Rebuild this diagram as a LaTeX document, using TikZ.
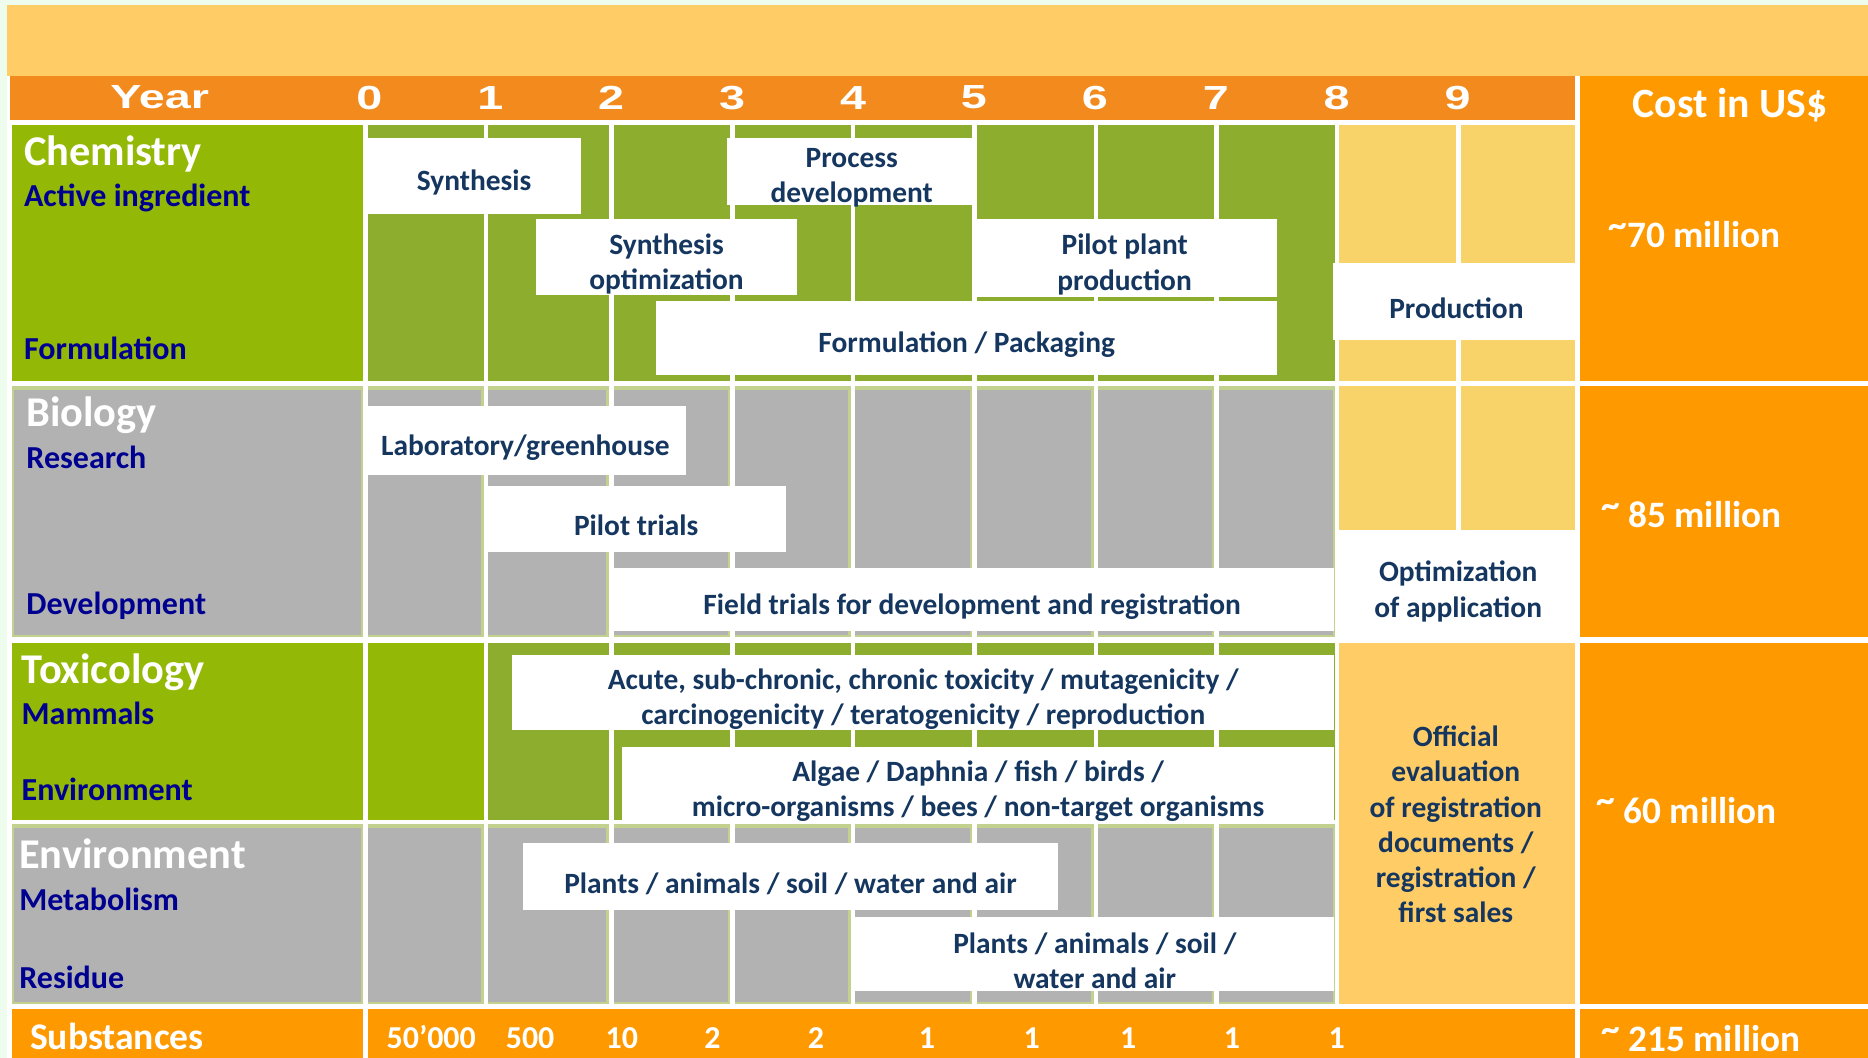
\documentclass[tikz,border=0pt]{standalone}
\usepackage{fontspec}
\setmainfont{Carlito}
\newfontfamily\yearfont{Liberation Sans}
\definecolor{bgc}{HTML}{EEFCEE}
\definecolor{band}{HTML}{FFCC66}
\definecolor{yearbar}{HTML}{F28A1E}
\definecolor{costc}{HTML}{FF9900}
\definecolor{lgreen}{HTML}{93B806}
\definecolor{cgreen}{HTML}{8DAD2F}
\definecolor{cgray}{HTML}{B2B2B2}
\definecolor{gframe}{HTML}{C3D18E}
\definecolor{ycell}{HTML}{F7D36A}
\definecolor{offc}{HTML}{FFCC66}
\definecolor{txtb}{HTML}{14365F}
\definecolor{subb}{HTML}{000090}
\newcommand\boxfont{\fontsize{24.7}{29.6}\selectfont\bfseries}
\newcommand\tld{\raisebox{.28em}{\char"007E}}
\newcommand\wbx[6]{\node[wbox, minimum width={(#4-#2)*1pt}, minimum height={(#5-#3)*1pt}] (#1) at ({(#2+#4)/2},{(#3+#5)/2}) {};
  \node[boxtext] (#1t) at (#1.center) {#6};}
\tikzset{
  wbox/.style={fill=white, inner sep=0pt},
  boxtext/.style={text=txtb, font=\boxfont, align=center, inner sep=0pt, yshift=-5.5pt},
  bigwhite/.style={text=white, font=\fontsize{35.6}{40}\selectfont\bfseries, inner sep=0pt, anchor=base west},
  sublab/.style={text=subb, font=\fontsize{26.9}{30}\selectfont\bfseries, inner sep=0pt, anchor=base west},
  yearlab/.style={text=white, font=\yearfont\fontsize{28}{30}\selectfont\bfseries, inner sep=0pt, xscale=1.4},
  costlab/.style={text=white, font=\fontsize{31.3}{34}\selectfont\bfseries, inner sep=0pt, anchor=west},
  sublabw/.style={text=white, font=\fontsize{26.8}{30}\selectfont\bfseries, inner sep=0pt},
}
\begin{document}
\begin{tikzpicture}[x=1pt,y=-1pt]
\useasboundingbox (0,0) rectangle (1568,888);
\fill[bgc] (0,0) rectangle (1568,888);
\fill[band] (6,4) rectangle (1568,64);
\fill[white] (6,64) rectangle (1568,888);
\fill[yearbar] (8,64) rectangle (1322,101);
% cost column
\fill[costc] (1326,64) rectangle (1568,320);
\fill[costc] (1326,324) rectangle (1568,535);
\fill[costc] (1326,540) rectangle (1568,843);
\fill[costc] (1326,847) rectangle (1568,888);
% substances row
\fill[costc] (10,847) rectangle (305,888);
\fill[costc] (309,847) rectangle (1322,888);
% label cells
\fill[lgreen] (10,105) rectangle (305,320);
\fill[gframe] (10,324) rectangle (305,535);
\fill[cgray] (12,327) rectangle (303,533);
\fill[lgreen] (10,540) rectangle (305,688);
\fill[gframe] (10,692) rectangle (305,843);
\fill[cgray] (12,695) rectangle (303,841);
% year cells
\foreach \a/\b [count=\i from 0] in {309/406,410/511,515/613,617/714,718/816,820/918,922/1019,1023/1121,1124/1222,1226/1322}{
  \ifnum\i<8
    \fill[cgreen] (\a,105) rectangle (\b,320);
    \fill[gframe] (\a,324) rectangle (\b,535);
    \fill[cgray] (\a,327) rectangle (\b-2,533);
    \ifnum\i=0
      \fill[lgreen] (\a,540) rectangle (\b,688);
    \else
      \fill[cgreen] (\a,540) rectangle (\b,688);
    \fi
    \fill[gframe] (\a,692) rectangle (\b,843);
    \fill[cgray] (\a,695) rectangle (\b-2,841);
  \else
    \fill[ycell] (\a,105) rectangle (\b,320);
    \fill[ycell] (\a,324) rectangle (\b,445);
  \fi
}
\fill[offc] (1124,540) rectangle (1322,843);
% white boxes
\wbx{syn}{308}{116}{488}{180}{Synthesis}
\wbx{proc}{610}{116}{820}{172}{Process\\development}
\wbx{synopt}{450}{184}{669}{248}{Synthesis\\optimization}
\wbx{pilot}{816}{184}{1072}{249}{Pilot plant\\production}
\wbx{form}{551}{253}{1072}{315}{Formulation / Packaging}
\wbx{prod}{1119}{221}{1326}{285}{Production}
\wbx{lab}{306}{341}{576}{399}{Laboratory/greenhouse}
\wbx{ptr}{408}{408}{660}{463}{Pilot trials}
\wbx{field}{512}{477}{1120}{530}{Field trials for development and registration}
\wbx{optapp}{1122}{447}{1326}{535}{Optimization\\of application}
\wbx{acute}{430}{550}{1120}{613}{Acute, sub-chronic, chronic toxicity / mutagenicity /\\carcinogenicity / teratogenicity / reproduction}
\wbx{algae}{522}{627}{1120}{690}{Algae / Daphnia / fish / birds /\\micro-organisms / bees / non-target organisms}
\wbx{pla}{439}{708}{888}{764}{Plants / animals / soil / water and air}
\wbx{plb}{718}{770}{1120}{832}{Plants / animals / soil /\\water and air}
\node[font=\boxfont, text=txtb, align=center, inner sep=0pt] (offi) at (1222,692) {Official\\evaluation\\of registration\\documents /\\registration /\\first sales};
% header
\node[yearlab] (year) at (134,82) {Year};
\foreach \i in {0,...,9}{\node[yearlab] (y\i) at ({310+101.5*\i},82) {\i};}
\node[costlab, anchor=center, font=\fontsize{35}{38}\selectfont\bfseries] (cost) at (1452,88) {Cost in US\$};
\node[costlab] (c70) at (1350,197) {\tld70 million};
\node[costlab] (c85) at (1344,432) {\tld{} 85 million};
\node[costlab] (c60) at (1340,680) {\tld{} 60 million};
\node[costlab] (c215) at (1344,872) {\tld{} 215 million};
% row labels
\node[bigwhite] (chem) at (20,139) {Chemistry};
\node[sublab] (act) at (20,173) {Active ingredient};
\node[sublab] (formu) at (20,302) {Formulation};
\node[bigwhite] (bio) at (22,358) {Biology};
\node[sublab] (res) at (22,393) {Research};
\node[sublab] (dev) at (22,516) {Development};
\node[bigwhite] (tox) at (18,574) {Toxicology};
\node[sublab] (mam) at (18,608) {Mammals};
\node[sublab] (envs) at (18,672) {Environment};
\node[bigwhite] (env) at (16,729) {Environment};
\node[sublab] (met) at (16,764) {Metabolism};
\node[sublab] (resi) at (16,830) {Residue};
\node[sublabw, font=\fontsize{31.6}{34}\selectfont\bfseries, anchor=base west] (subs) at (25,881) {Substances};
% substance counts
\foreach \x/\t [count=\k] in {362/50’000,445/500,522/10,598/2,685/2,778/1,866/1,947/1,1034/1,1122/1}{
  \node[sublabw, anchor=base] (n\k) at (\x,880) {\t};
}
\end{tikzpicture}
\end{document}
